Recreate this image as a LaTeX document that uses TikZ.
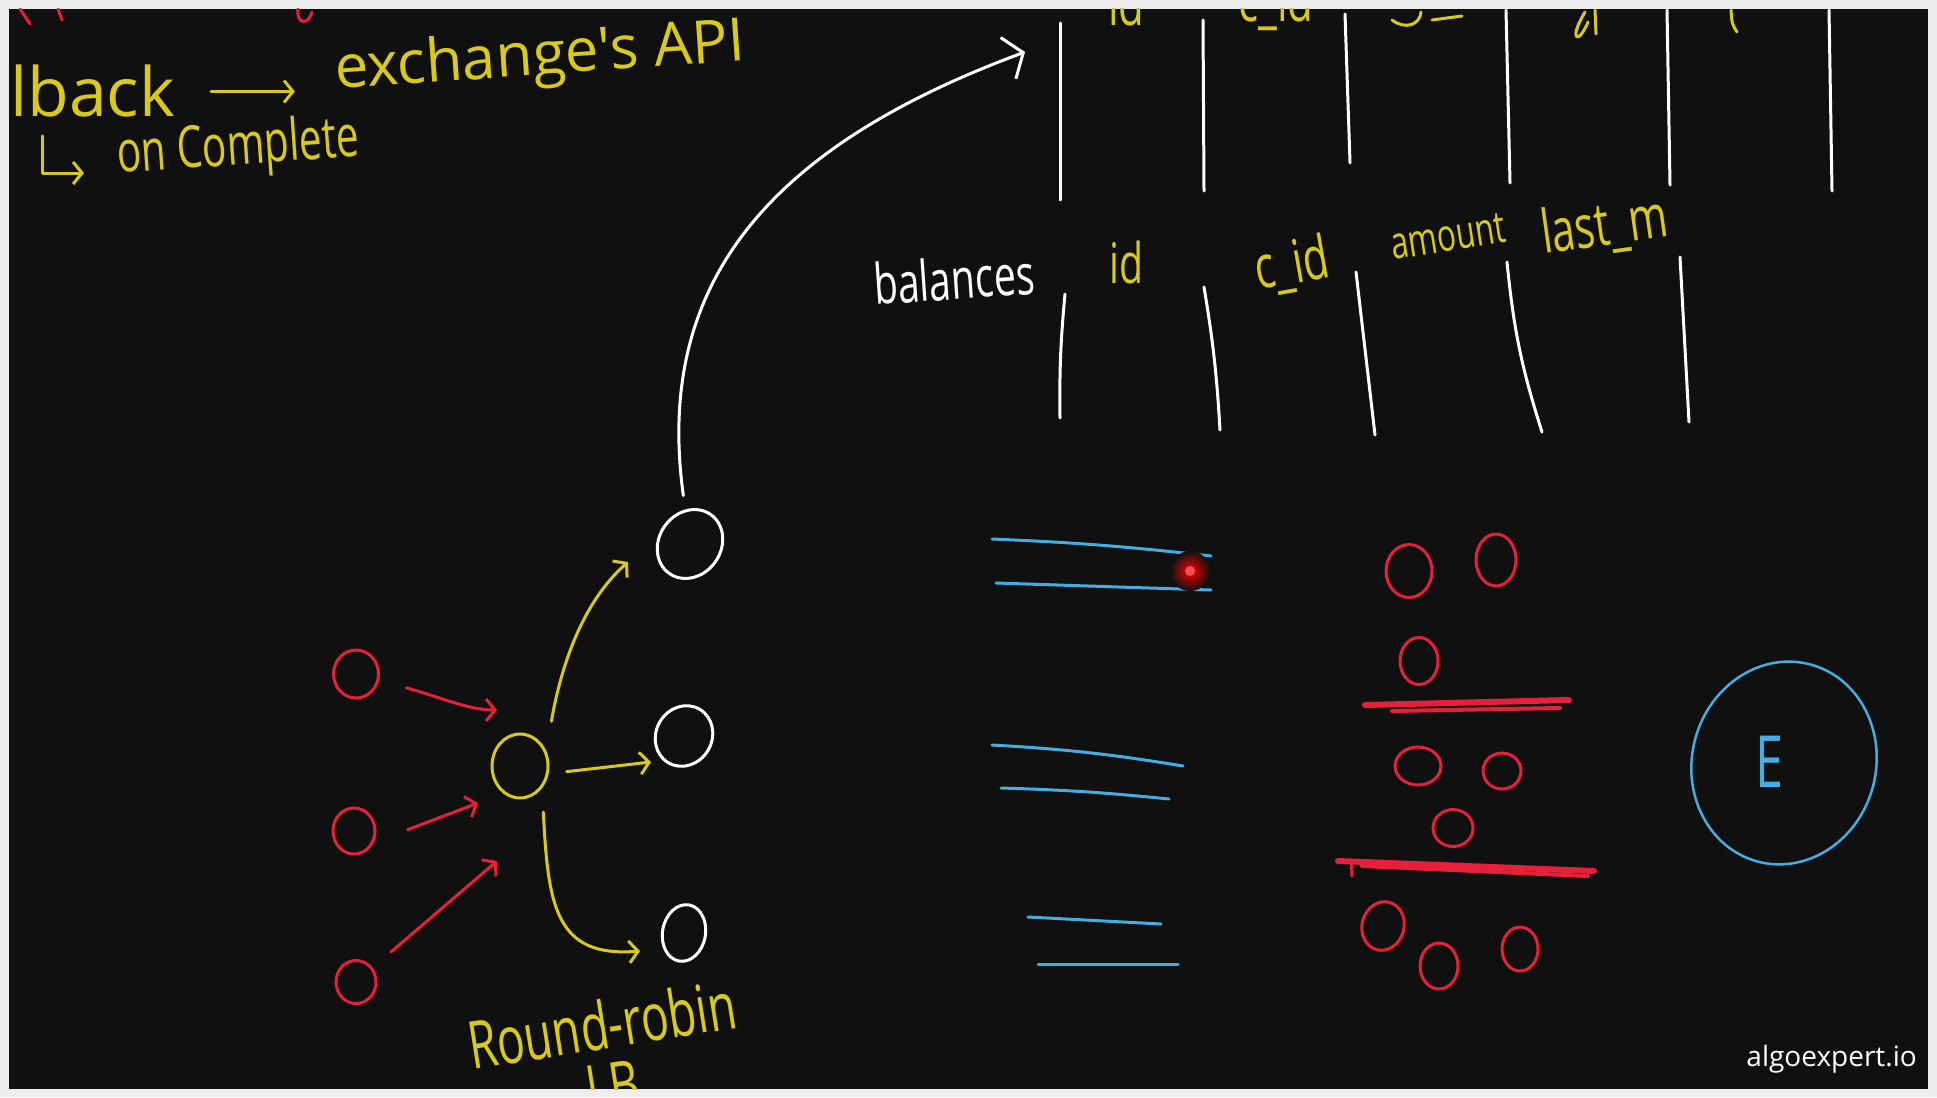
\documentclass[tikz,border=0pt]{standalone}
\usepackage{fontspec}
\setmainfont{Open Sans}
\newfontfamily\hand{Open Sans}
\newfontfamily\handslim[FakeStretch=0.7]{Open Sans}
\usetikzlibrary{arrows.meta,shapes.geometric}

\definecolor{board}{HTML}{101010}
\definecolor{rim}{HTML}{EDEDED}
\definecolor{chalkyellow}{HTML}{D8C91C}
\definecolor{chalkred}{HTML}{E5203A}
\definecolor{chalkblue}{HTML}{45AEE0}

\begin{document}
\begin{tikzpicture}[x=1pt,y=-1pt,
        chalk/.style={line width=3pt, line cap=round, line join=round},
        wchalk/.style={chalk, white},
        ychalk/.style={chalk, chalkyellow},
        rchalk/.style={chalk, chalkred},
        bchalk/.style={chalk, chalkblue},
        barb/.style={-{Straight Barb[length=9pt,width=22pt]}},
        bigbarb/.style={-{Straight Barb[length=16pt,width=44pt]}},
        ball/.style={ellipse, draw=#1, line width=3pt, inner sep=0pt},
        word/.style={font={\hand\fontsize{#1}{#1}\selectfont}, inner sep=0pt, anchor=base west},
        slimword/.style={font={\handslim\fontsize{#1}{#1}\selectfont}, inner sep=0pt, anchor=base west},
    ]
    \fill[rim] (0,0) rectangle (1937,1097);
    \fill[board] (9,9) rectangle (1928,1089);
    \begin{scope}
        \clip (9,9) rectangle (1928,1089);

        % leftovers at the top edge
        \draw[rchalk] (20,9) -- (30,24);
        \draw[rchalk] (58,9) -- (62,20);
        \draw[rchalk] (298,9) .. controls (296,24) and (308,26) .. (312,12);
        \node[slimword=60, text=chalkyellow] (hid) at (1108,26) {id};
        \node[slimword=60, text=chalkyellow] (hcid) at (1238,22) {c\_id};
        \draw[ychalk] (1392,20) .. controls (1405,30) and (1420,25) .. (1421,12);
        \draw[ychalk] (1432,20) -- (1462,16);
        \draw[ychalk] (1585,12) .. controls (1568,40) and (1578,46) .. (1588,22);
        \draw[ychalk] (1595,10) -- (1596,34);
        \draw[ychalk] (1731,10) .. controls (1732,24) .. (1737,32);

        % callback note
        \node[word=68, text=chalkyellow] (lback) at (10,117) {lback};
        \node[word=60, text=chalkyellow, rotate=4] (exch) at (336,89) {exchange's API};
        \node[slimword=58, text=chalkyellow, rotate=4] (oncomp) at (118,173) {on Complete};
        \draw[ychalk, barb, shorten <=36pt, shorten >=40pt] (lback.east) -- (lback.east -| exch.west);
        \draw[ychalk, barb, shorten <=18pt, shorten >=34pt] ([xshift=32pt]lback.south west) |- (oncomp.base west);

        % upper table
        \draw[wchalk] (1060,23) -- (1060,200);
        \draw[wchalk] (1203,20) -- (1204,191);
        \draw[wchalk] (1345,14) -- (1350,163);
        \draw[wchalk] (1506,10) -- (1510,183);
        \draw[wchalk] (1667,10) -- (1670,185);
        \draw[wchalk] (1829,10) -- (1832,191);

        % balances table
        \node[slimword=56, text=white, rotate=4] (bal) at (875,305) {balances};
        \node[slimword=56, text=chalkyellow] (cid) at (1109,283) {id};
        \node[slimword=60, text=chalkyellow, rotate=10] (ccid) at (1258,290) {c\_id};
        \node[slimword=45, text=chalkyellow, rotate=9] (camount) at (1393,260) {amount};
        \node[slimword=60, text=chalkyellow, rotate=8] (clast) at (1544,254) {last\_m};
        \draw[wchalk] (1065,294) to[bend right=3] (1060,418);
        \draw[wchalk] (1204,287) to[bend left=3] (1220,430);
        \draw[wchalk] (1356,272) -- (1375,435);
        \draw[wchalk] (1507,262) to[bend right=6] (1542,432);
        \draw[wchalk] (1680,257) -- (1689,422);

        % clients -> load balancer -> servers
        \node[ball=chalkred, minimum width=45pt, minimum height=48pt] (r1) at (356,674) {};
        \node[ball=chalkred, minimum width=42pt, minimum height=46pt] (r2) at (354,831) {};
        \node[ball=chalkred, minimum width=40pt, minimum height=43pt] (r3) at (356,982) {};
        \node[ball=chalkyellow, minimum width=56pt, minimum height=64pt] (lb) at (520,766) {};
        \node[ball=white, minimum width=62pt, minimum height=72pt, rotate=-35] (w1) at (690,544) {};
        \node[ball=white, minimum width=56pt, minimum height=62pt, rotate=-30] (w2) at (684,736) {};
        \node[ball=white, minimum width=43pt, minimum height=57pt, rotate=-10] (w3) at (684,933) {};

        \coordinate (rin1) at (497,710);
        \coordinate (rin2) at (478,803);
        \coordinate (rin3) at (497,861);
        \coordinate (yout1) at (628,562);
        \coordinate (yout2) at (651,762);
        \coordinate (yout3) at (640,951);
        \coordinate (api) at (1025,52);

        \draw[rchalk, barb, shorten <=28pt] (r1) .. controls (440,697) and (468,710) .. (rin1);
        \draw[rchalk, barb, shorten <=36pt] (r2.-30) -- (rin2);
        \draw[rchalk, barb, shorten <=24pt] (r3) -- (rin3);
        \draw[ychalk, barb, shorten <=30pt] (lb.30) .. controls (562,660) and (585,600) .. (yout1);
        \draw[ychalk, barb, shorten <=18pt] (lb.-15) -- (yout2);
        \draw[ychalk, barb, shorten <=24pt] (lb.-45) .. controls (548,905) and (555,958) .. (yout3);
        \draw[wchalk, bigbarb, shorten <=14pt] (w1) .. controls (655,290) and (760,150) .. (api);

        \node[slimword=66, text=chalkyellow, rotate=9] (rr) at (472,1070) {Round-robin};
        \node[slimword=66, text=chalkyellow, rotate=9] (lbname) at (590,1114) {LB};

        % queues
        \draw[bchalk] (992,539) to[bend left=2] (1211,556);
        \draw[bchalk] (996,583) -- (1211,590);
        \draw[bchalk] (992,745) to[bend left=3] (1183,766);
        \draw[bchalk] (1001,788) to[bend left=2] (1169,799);
        \draw[bchalk] (1028,917) -- (1161,924);
        \draw[bchalk] (1038,964) -- (1178,964);
        \shade[inner color=red, outer color=board] (1190,571) circle (20);
        \fill[red!70!white] (1190,571) circle (5);

        % orders
        \node[ball=chalkred, minimum width=46pt, minimum height=53pt] (o1) at (1409,571) {};
        \node[ball=chalkred, minimum width=40pt, minimum height=52pt] (o2) at (1496,560) {};
        \node[ball=chalkred, minimum width=38pt, minimum height=47pt] (o3) at (1419,661) {};
        \draw[rchalk, line width=6pt] (1365,705) -- (1569,700);
        \draw[rchalk, line width=4pt] (1392,711) -- (1560,708);
        \node[ball=chalkred, minimum width=46pt, minimum height=38pt] (o4) at (1418,766) {};
        \node[ball=chalkred, minimum width=38pt, minimum height=36pt] (o5) at (1502,771) {};
        \node[ball=chalkred, minimum width=40pt, minimum height=37pt] (o6) at (1453,828) {};
        \draw[rchalk, line width=6pt] (1338,861) -- (1594,871);
        \draw[rchalk, line width=4pt] (1362,866) -- (1588,876);
        \draw[rchalk] (1351,862) -- (1352,876);
        \node[ball=chalkred, minimum width=42pt, minimum height=49pt, rotate=-15] (o7) at (1383,926) {};
        \node[ball=chalkred, minimum width=38pt, minimum height=46pt] (o8) at (1439,966) {};
        \node[ball=chalkred, minimum width=36pt, minimum height=44pt] (o9) at (1520,949) {};

        % exchange
        \node[ball=chalkblue, minimum width=184pt, minimum height=204pt, rotate=-15, line width=2.5pt] (engine) at (1784,763) {};
        \node[slimword=72, text=chalkblue, anchor=center] (ename) at (1769,762) {E};

        \node[font={\fontsize{28}{28}\selectfont}, text=white, inner sep=0pt, anchor=base east] (brand) at (1917,1066) {algoexpert.io};
    \end{scope}
\end{tikzpicture}
\end{document}
